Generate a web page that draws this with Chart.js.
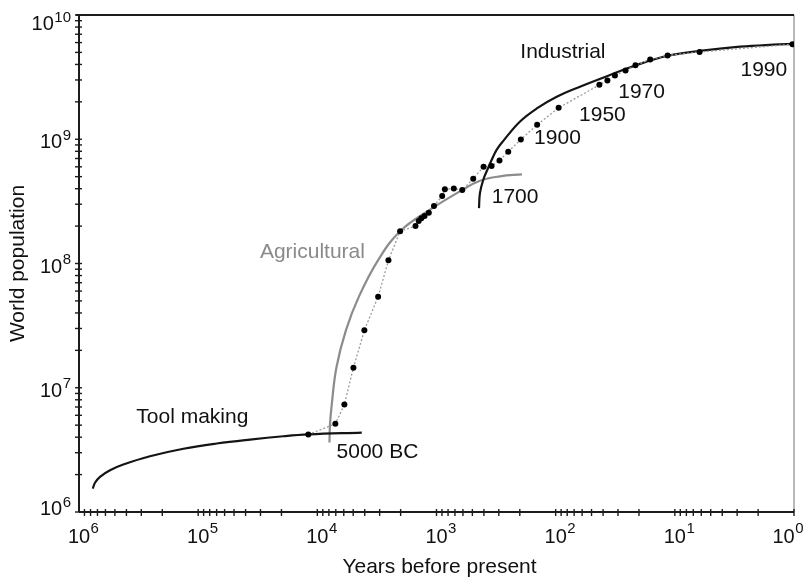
<!DOCTYPE html>
<html>
<head>
<meta charset="utf-8">
<title>World population</title>
<script src="https://cdn.jsdelivr.net/npm/chart.js@4.4.1/dist/chart.umd.min.js"></script>
<style>
  html, body { margin: 0; padding: 0; background: #fff; }
  #wrap { width: 806px; height: 582px; }
</style>
</head>
<body>
<div id="wrap"><canvas id="chart" width="806" height="582"></canvas></div>
<script>
// Population estimates (years before present, people)
const yearsBP = [11900, 7060, 5930, 4980, 4030, 3090, 2530, 2020, 1500, 1410, 1340, 1260,
  1160, 1050, 896, 851, 716, 608, 492, 403, 345, 296, 250, 196, 143, 94.4, 43, 36.8,
  31.8, 25.9, 21.4, 16.1, 11.5, 6.2, 1.03];
const population = [4.21e6, 5.13e6, 7.33e6, 1.45e7, 2.90e7, 5.41e7, 1.06e8, 1.82e8, 2.00e8,
  2.20e8, 2.31e8, 2.41e8, 2.56e8, 2.90e8, 3.49e8, 3.95e8, 4.02e8, 3.90e8, 4.81e8, 6.00e8,
  6.08e8, 6.75e8, 7.95e8, 9.96e8, 1.31e9, 1.79e9, 2.74e9, 2.97e9, 3.26e9, 3.57e9, 3.94e9,
  4.38e9, 4.73e9, 5.04e9, 5.81e9];

// Growth curves of the three eras
const toolYears = [767000, 734000, 667000, 549000, 425000, 254000, 133000, 69900, 36700, 19300, 11900, 4240];
const toolPop = [1.54e6, 1.72e6, 1.92e6, 2.17e6, 2.41e6, 2.81e6, 3.23e6, 3.56e6, 3.83e6, 4.07e6, 4.21e6, 4.36e6];

const agriYears = [7910, 7830, 7570, 6910, 5750, 4470, 3080, 2020, 1135, 615, 432, 293, 192];
const agriPop = [3.62e6, 5.06e6, 7.33e6, 1.46e7, 2.91e7, 5.44e7, 1.07e8, 1.82e8, 2.71e8, 3.88e8, 4.63e8, 5.03e8, 5.22e8];

const indYears = [440, 432, 405, 373, 344, 313, 275, 199, 144, 98, 62.5, 35, 20.9, 11.7, 6.15, 2.84, 1.49, 1.0];
const indPop = [2.79e8, 3.69e8, 4.72e8, 5.73e8, 6.83e8, 8.22e8, 9.71e8, 1.39e9, 1.77e9, 2.20e9,
  2.65e9, 3.29e9, 3.96e9, 4.68e9, 5.14e9, 5.56e9, 5.77e9, 5.85e9];

// Axis decades (powers of ten)
const xExponents = [6, 5, 4, 3, 2, 1, 0];
const yExponents = [6, 7, 8, 9, 10];

// Text notes, anchored in data space
const noteText = ['Industrial', '1990', '1970', '1950', '1900', '1700', 'Agricultural', 'Tool making', '5000 BC'];
const noteYears = [86.9, 1.79, 19.0, 40.5, 96.6, 219, 11000, 112000, 3130];
const notePop = [5.04e9, 3.61e9, 2.40e9, 1.57e9, 1.02e9, 3.44e8, 1.24e8, 5.76e6, 3.01e6];

const FONT = '"Liberation Sans", Arial, Helvetica, sans-serif';
const INK = '#111';

const pairs = (xs, ys) => xs.map((v, i) => ({ x: v, y: ys[i] }));

const frameAndLabels = {
  id: 'frameAndLabels',
  beforeDatasetsDraw(chart) {
    const { ctx, chartArea: a, scales: { x, y } } = chart;
    const seg = (x1, y1, x2, y2) => { ctx.beginPath(); ctx.moveTo(x1, y1); ctx.lineTo(x2, y2); ctx.stroke(); };
    ctx.save();
    // right edge
    ctx.strokeStyle = '#b8b8b8';
    ctx.lineWidth = 2;
    seg(a.right, a.top, a.right, a.bottom);
    // top edge and the two axes
    ctx.strokeStyle = '#1c1c1c';
    ctx.lineWidth = 2;
    seg(a.left - 3, a.top, a.right, a.top);
    seg(a.left, a.top, a.left, a.bottom);
    seg(a.left, a.bottom, a.right, a.bottom);
    // logarithmic tick marks crossing the axes
    ctx.lineWidth = 1.4;
    for (let e = 0; e < 6; e++) {
      for (let m = 1; m < 10; m++) {
        const px = x.getPixelForValue(m * Math.pow(10, e));
        seg(px, a.bottom - 3, px, a.bottom + 4);
      }
    }
    for (let e = 6; e < 10; e++) {
      for (let m = 1; m < 10; m++) {
        const py = y.getPixelForValue(m * Math.pow(10, e));
        seg(a.left - 4, py, a.left + 3, py);
      }
    }
    const top = y.getPixelForValue(1e10);
    seg(a.left - 4, top, a.left + 3, top);
    ctx.restore();
  },
  afterDatasetsDraw(chart) {
    const { ctx, chartArea: a, scales: { x, y } } = chart;
    ctx.save();
    ctx.fillStyle = INK;
    ctx.textBaseline = 'alphabetic';

    // x tick labels: 10 with superscript exponent, kept inside the canvas
    xExponents.forEach(e => {
      let px = x.getPixelForValue(Math.pow(10, e));
      ctx.font = '15px ' + FONT;
      const sw = ctx.measureText(String(e)).width;
      ctx.font = '20px ' + FONT;
      const w = ctx.measureText('10').width;
      px = Math.min(px, chart.width - 3 - sw - w / 2);
      ctx.textAlign = 'center';
      ctx.fillText('10', px, a.bottom + 30.5);
      ctx.font = '15px ' + FONT;
      ctx.textAlign = 'left';
      ctx.fillText(String(e), px + w / 2 + 0.5, a.bottom + 20.5);
    });

    // y tick labels, end labels pulled inside the frame
    yExponents.forEach(e => {
      const py = y.getPixelForValue(Math.pow(10, e));
      const base = Math.max(a.top + 15, Math.min(py + 9, a.bottom + 3));
      const right = a.left - 8;
      ctx.font = '15px ' + FONT;
      ctx.textAlign = 'right';
      const sw = ctx.measureText(String(e)).width;
      ctx.fillText(String(e), right, base - 8.5);
      ctx.font = '20px ' + FONT;
      ctx.fillText('10', right - sw - 0.5, base);
    });

    // axis titles
    ctx.font = '21px ' + FONT;
    ctx.textAlign = 'center';
    ctx.fillText('Years before present', (a.left + a.right) / 2 + 3, 573);
    ctx.save();
    ctx.translate(24, (a.top + a.bottom) / 2);
    ctx.rotate(-Math.PI / 2);
    ctx.fillText('World population', 0, 0);
    ctx.restore();

    // notes
    ctx.font = '21px ' + FONT;
    ctx.textAlign = 'center';
    ctx.textBaseline = 'middle';
    noteText.forEach((t, i) => {
      ctx.fillStyle = t === 'Agricultural' ? '#8a8a8a' : INK;
      ctx.fillText(t, x.getPixelForValue(noteYears[i]), y.getPixelForValue(notePop[i]));
    });
    ctx.restore();
  }
};

new Chart(document.getElementById('chart'), {
  type: 'scatter',
  data: {
    datasets: [
      {
        label: 'Estimates',
        data: pairs(yearsBP, population),
        showLine: true,
        borderColor: '#9c9c9c',
        borderWidth: 1.3,
        borderDash: [2, 2],
        pointRadius: 3,
        pointBackgroundColor: '#000',
        pointBorderWidth: 0,
        order: 0
      },
      {
        label: 'Tool making',
        data: pairs(toolYears, toolPop),
        showLine: true,
        borderColor: '#141414',
        borderWidth: 2.2,
        pointRadius: 0,
        tension: 0.4,
        order: 1
      },
      {
        label: 'Agricultural',
        data: pairs(agriYears, agriPop),
        showLine: true,
        borderColor: '#8c8c8c',
        borderWidth: 2.2,
        pointRadius: 0,
        tension: 0.4,
        order: 2
      },
      {
        label: 'Industrial',
        data: pairs(indYears, indPop),
        showLine: true,
        borderColor: '#141414',
        borderWidth: 2.2,
        pointRadius: 0,
        tension: 0.4,
        order: 1
      }
    ]
  },
  options: {
    responsive: false,
    animation: false,
    devicePixelRatio: 1,
    layout: { padding: { left: 79, right: 12, top: 15, bottom: 70 } },
    plugins: { legend: { display: false }, tooltip: { enabled: false } },
    scales: {
      x: { type: 'logarithmic', reverse: true, min: 1, max: 1e6, display: false },
      y: { type: 'logarithmic', min: 1e6, max: 1e10, display: false }
    }
  },
  plugins: [frameAndLabels]
});
</script>
</body>
</html>
